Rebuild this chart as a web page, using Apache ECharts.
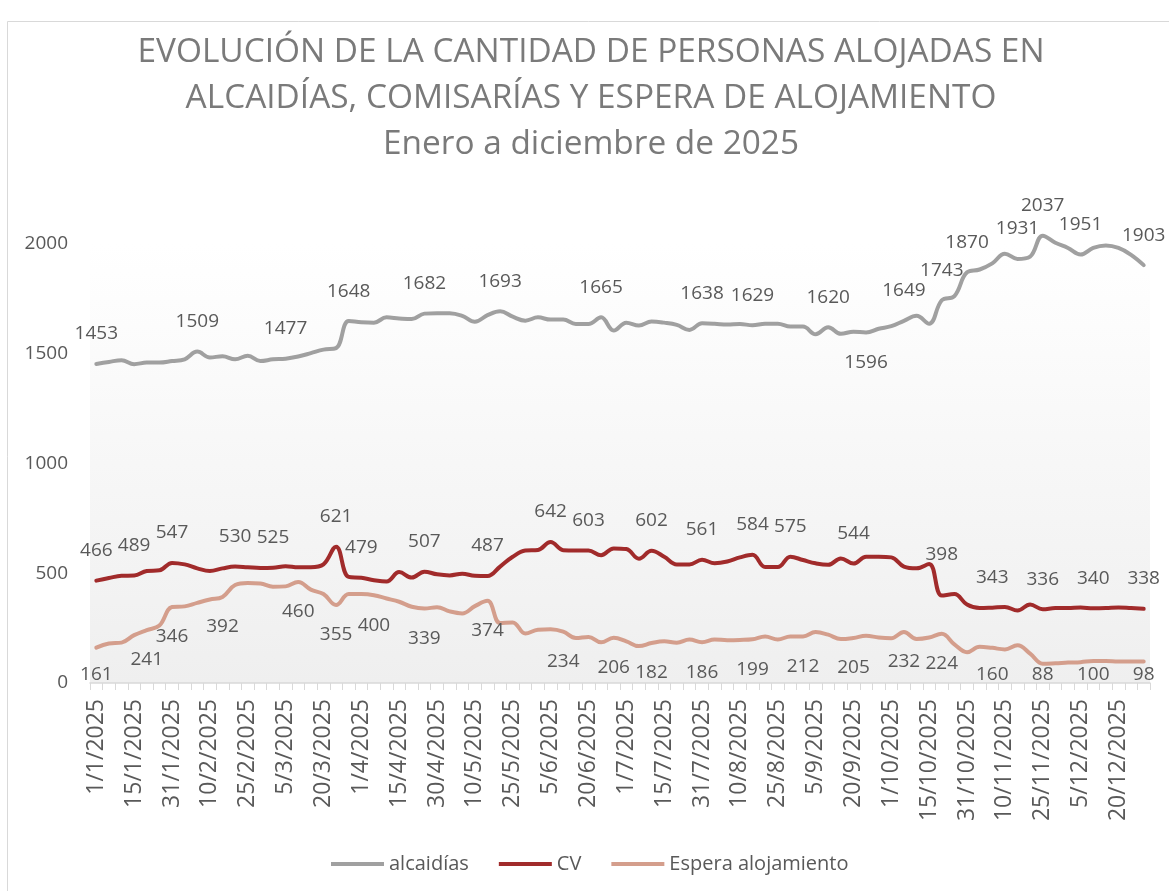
<!DOCTYPE html>
<html>
<head>
<meta charset="utf-8">
<title>Personas alojadas 2025</title>
<script src="https://cdn.jsdelivr.net/npm/echarts@6/dist/echarts.min.js"></script>
<style>
  html, body { margin: 0; padding: 0; background: #ffffff; }
  #chart { width: 1169px; height: 891px; }
</style>
</head>
<body>
<div id="chart"></div>
<script>
// fechas de corte: 1, 5, 10, 15, 20, 25 y fin de cada mes
const fechas = [
  "1/1/2025", "5/1/2025", "10/1/2025", "15/1/2025", "20/1/2025", "25/1/2025", "31/1/2025",
  "1/2/2025", "5/2/2025", "10/2/2025", "15/2/2025", "20/2/2025", "25/2/2025", "28/2/2025",
  "1/3/2025", "5/3/2025", "10/3/2025", "15/3/2025", "20/3/2025", "25/3/2025", "31/3/2025",
  "1/4/2025", "5/4/2025", "10/4/2025", "15/4/2025", "20/4/2025", "25/4/2025", "30/4/2025",
  "1/5/2025", "5/5/2025", "10/5/2025", "15/5/2025", "20/5/2025", "25/5/2025", "31/5/2025",
  "1/6/2025", "5/6/2025", "10/6/2025", "15/6/2025", "20/6/2025", "25/6/2025", "30/6/2025",
  "1/7/2025", "5/7/2025", "10/7/2025", "15/7/2025", "20/7/2025", "25/7/2025", "31/7/2025",
  "1/8/2025", "5/8/2025", "10/8/2025", "15/8/2025", "20/8/2025", "25/8/2025", "31/8/2025",
  "1/9/2025", "5/9/2025", "10/9/2025", "15/9/2025", "20/9/2025", "25/9/2025", "30/9/2025",
  "1/10/2025", "5/10/2025", "10/10/2025", "15/10/2025", "20/10/2025", "25/10/2025", "31/10/2025",
  "1/11/2025", "5/11/2025", "10/11/2025", "15/11/2025", "20/11/2025", "25/11/2025", "30/11/2025",
  "1/12/2025", "5/12/2025", "10/12/2025", "15/12/2025", "20/12/2025", "25/12/2025", "31/12/2025"
];

const alcaidias = [
  1453, 1462, 1470, 1452, 1459, 1459, 1466, 1474, 1509, 1482, 1488, 1474, 1490, 1466,
  1474, 1477, 1487, 1502, 1518, 1525, 1648, 1643, 1641, 1665, 1660, 1657, 1682, 1684,
  1684, 1672, 1645, 1675, 1693, 1668, 1650, 1665, 1655, 1655, 1635, 1635, 1665, 1605,
  1641, 1628, 1646, 1641, 1631, 1608, 1638, 1636, 1632, 1635, 1629, 1636, 1636, 1623,
  1623, 1588, 1620, 1590, 1600, 1596, 1613, 1625, 1649, 1672, 1636, 1743, 1762, 1870,
  1883, 1911, 1955, 1931, 1942, 2037, 2005, 1981, 1951, 1981, 1992, 1981, 1950, 1903
];

const cv = [
  466, 478, 488, 489, 510, 513, 547, 540, 522, 510, 522, 530, 527, 524,
  525, 532, 527, 527, 540, 621, 483, 479, 468, 462, 505, 480, 507, 495,
  490, 498, 488, 487, 530, 575, 603, 606, 642, 605, 603, 603, 582, 613,
  610, 566, 602, 575, 540, 540, 561, 545, 553, 572, 584, 528, 528, 575,
  560, 545, 538, 567, 544, 575, 575, 572, 530, 522, 542, 398, 405, 357,
  341, 343, 346, 330, 357, 336, 341, 341, 344, 340, 341, 344, 341, 338
];

const espera = [
  161, 180, 184, 218, 241, 262, 346, 349, 365, 380, 392, 446, 455, 453,
  438, 440, 460, 425, 405, 355, 405, 405, 400, 385, 370, 347, 339, 345,
  326, 317, 350, 374, 273, 276, 225, 243, 245, 234, 205, 210, 185, 206,
  190, 168, 182, 190, 183, 198, 186, 198, 195, 196, 199, 212, 198, 212,
  212, 232, 220, 200, 205, 215, 207, 204, 232, 200, 207, 224, 176, 140,
  165, 160, 153, 172, 134, 88, 90, 93, 95, 100, 100, 98, 98, 98
];

// puntos que llevan etiqueta de valor
const etiqAlcaidias = [0, 8, 15, 20, 26, 32, 40, 48, 52, 58, 61, 64, 67, 69, 73, 75, 78, 83];
const etiqAlcaidiasAbajo = [61];
const etiqCv = [0, 3, 6, 11, 14, 19, 21, 26, 31, 36, 39, 44, 48, 52, 55, 60, 67, 71, 75, 79, 83];
const etiqCvAlejada = [67];
const etiqEspera = [0, 4, 6, 10, 16, 19, 22, 26, 31, 37, 41, 44, 48, 52, 56, 60, 64, 67, 71, 75, 79, 83];

const yMax = 2500;
const yPaso = 500;

const FONT = "'Open Sans', 'Noto Sans', sans-serif";
const TXT = "#595959";
const GRID_BOTTOM = 208;
const CHART_H = 891;

const colores = { alcaidias: "#A0A0A0", cv: "#A12B2B", espera: "#D49E8C" };

function conEtiquetas(valores, indices, abajo, posicion, alejadas) {
  return valores.map((v, i) => {
    if (!indices.includes(i)) return v;
    const label = { show: true, position: abajo.includes(i) ? "bottom" : posicion };
    if (alejadas && alejadas.includes(i)) label.distance = 29;
    return { value: v, label: label };
  });
}

// las etiquetas no bajan del eje X (como Excel)
const limiteInferior = CHART_H - GRID_BOTTOM + 3;
function ajustarEtiqueta(p) {
  const r = p.labelRect;
  const exceso = r.y + r.height - limiteInferior;
  return exceso > 0 ? { dy: -exceso } : {};
}

function serieLinea(nombre, color, data) {
  return {
    name: nombre,
    type: "line",
    data: data,
    smooth: 0.4,
    symbol: "circle",
    symbolSize: 2,
    showAllSymbol: true,
    color: color,
    itemStyle: { color: color },
    lineStyle: { width: 4, color: color, cap: "round", join: "round" },
    label: {
      show: false,
      color: TXT,
      fontSize: 19,
      fontFamily: FONT,
      lineHeight: 22,
      distance: 18,
    },
    labelLayout: ajustarEtiqueta,
    emphasis: { disabled: true },
  };
}

const chart = echarts.init(document.getElementById("chart"));

const options = {
  backgroundColor: "#ffffff",
  animation: false,
  title: {
    text:
      "EVOLUCIÓN DE LA CANTIDAD DE PERSONAS ALOJADAS EN\n" +
      "ALCAIDÍAS, COMISARÍAS Y ESPERA DE ALOJAMIENTO\n" +
      "Enero a diciembre de 2025",
    left: 586,
    top: 24,
    textAlign: "center",
    textStyle: {
      fontSize: 33.4,
      fontWeight: "normal",
      color: "#7a7a7a",
      fontFamily: FONT,
      lineHeight: 46,
    },
  },
  legend: {
    left: 331,
    top: 854,
    padding: 0,
    icon: "rect",
    itemWidth: 53,
    itemHeight: 4,
    itemGap: 30,
    textStyle: { fontSize: 20, color: TXT, fontFamily: FONT },
    data: ["alcaidías", "CV", "Espera alojamiento"],
  },
  grid: {
    left: 90,
    right: 19,
    top: 134,
    bottom: GRID_BOTTOM,
    show: true,
    borderWidth: 0,
    backgroundColor: new echarts.graphic.LinearGradient(0, 0, 0, 1, [
      { offset: 0, color: "#ffffff" },
      { offset: 0.2, color: "#ffffff" },
      { offset: 1, color: "#efefef" },
    ]),
  },
  graphic: [
    {
      type: "rect",
      silent: true,
      z: -10,
      shape: { x: 7.5, y: 21.5, width: 1200, height: 900 },
      style: { fill: "none", stroke: "#d9d9d9", lineWidth: 1 },
    },
  ],
  xAxis: {
    type: "category",
    data: fechas,
    boundaryGap: true,
    axisLine: { lineStyle: { color: "#d9d9d9", width: 1.5 } },
    axisTick: { show: true, interval: 0, length: 7, lineStyle: { color: "#d9d9d9" } },
    axisLabel: {
      interval: 2,
      rotate: 90,
      margin: 16,
      fontSize: 23,
      color: TXT,
      fontFamily: FONT,
    },
    splitLine: { show: false },
  },
  yAxis: {
    type: "value",
    min: 0,
    max: yMax,
    interval: yPaso,
    axisLine: { show: false },
    axisTick: { show: false },
    splitLine: { show: false },
    axisLabel: {
      margin: 22,
      fontSize: 19,
      color: TXT,
      fontFamily: FONT,
      formatter: (v) => (v > 2000 ? "" : String(v)),
    },
  },
  series: [
    serieLinea("alcaidías", colores.alcaidias,
      conEtiquetas(alcaidias, etiqAlcaidias, etiqAlcaidiasAbajo, "top")),
    serieLinea("CV", colores.cv, conEtiquetas(cv, etiqCv, [], "top", etiqCvAlejada)),
    serieLinea("Espera alojamiento", colores.espera,
      conEtiquetas(espera, etiqEspera, etiqEspera, "bottom")),
  ],
};

chart.setOption(options);
</script>
</body>
</html>
